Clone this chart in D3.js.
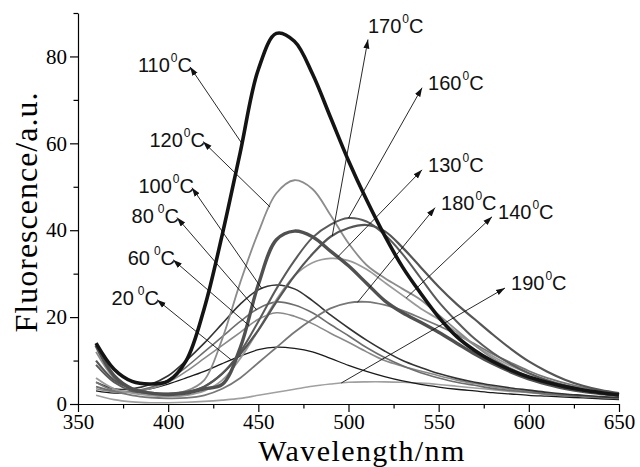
<!DOCTYPE html>
<html>
<head>
<meta charset="utf-8">
<script src="https://cdnjs.cloudflare.com/ajax/libs/d3/7.8.5/d3.min.js"></script>
<style>
  body { margin: 0; background: #fff; }
  svg { display: block; }
  .axis path, .axis line { stroke: #000; stroke-width: 1.2; }
  .title { font-family: "Liberation Serif", "Times New Roman", serif; fill: #000; }
  .temp { font-family: "Liberation Sans", Arial, sans-serif; font-size: 20px; fill: #111; }
</style>
</head>
<body>
<div class="chart"></div>
<script>

// wavelength grid (nm)
var wavelengths = [360, 370, 380, 390, 400, 410, 420, 430, 440, 450,
                   460, 470, 480, 490, 500, 510, 520, 530, 540, 550,
                   560, 570, 580, 590, 600, 610, 620, 630, 640, 650];

var temperatures = ["20", "60", "80", "100", "110", "120", "130", "140", "160", "170", "180", "190"];

// fluorescence, one list per temperature
var s20  = [3, 2.5, 2.8, 3.5, 4.6, 6, 7.5, 9.3, 11, 12.5, 13.1, 12.8, 12, 10.5, 8.9, 7.5, 6.3, 5.3, 4.5, 3.9, 3.4, 3, 2.6, 2.3, 2, 1.8, 1.6, 1.4, 1.2, 1];
var s60  = [3.5, 2.8, 2.8, 3.5, 5, 7.5, 10.5, 13.5, 16.5, 19.5, 21, 20.2, 18.5, 16.3, 14.2, 12, 10, 8.7, 7.6, 6.5, 5.5, 4.7, 4, 3.4, 2.9, 2.5, 2.1, 1.8, 1.6, 1.4];
var s80  = [4, 3, 3, 3.8, 5.5, 8.5, 12, 15.5, 19, 22, 23.5, 22.8, 21, 18.3, 15.7, 13, 10.7, 8.8, 7.2, 6, 5, 4.3, 3.6, 3.1, 2.7, 2.3, 2, 1.7, 1.5, 1.3];
var s100 = [5, 3.5, 3.5, 4.5, 6.5, 10, 14, 18.5, 23, 26.3, 27.4, 26.5, 23.8, 20.5, 17.5, 14.7, 12.2, 10, 8.4, 7, 5.9, 5, 4.3, 3.7, 3.2, 2.7, 2.3, 2, 1.7, 1.5];
var s110 = [14, 8, 5.2, 4.6, 5.3, 10, 22, 39, 58, 77, 85.3, 83.5, 76, 66, 56, 47, 38.8, 31.5, 25.5, 20, 15.5, 12.3, 9.8, 7.8, 6.2, 5, 4, 3.2, 2.6, 2.1];
var s120 = [12, 6, 3.5, 2.5, 2.3, 3, 5.5, 15, 28, 39.5, 48.5, 51.5, 49.5, 43.5, 37, 32, 29, 26.5, 24, 20.5, 17, 13.5, 10.5, 8.2, 6.3, 5, 3.9, 3, 2.4, 1.9];
var s130 = [13.5, 6.5, 3.5, 2.5, 2.2, 2.5, 3.5, 4.5, 13, 27.5, 37.8, 39.8, 38.5, 35.2, 31.8, 27.8, 23.8, 21, 18.8, 16.5, 14, 11.5, 9.3, 7.4, 5.8, 4.6, 3.6, 2.9, 2.4, 2];
var s140 = [6, 3.5, 2.5, 2, 1.7, 2, 3, 5.5, 10.5, 17, 24, 29.5, 32.5, 33.5, 33, 31, 28, 25, 22, 19.5, 16.5, 13.5, 11, 8.8, 7, 5.5, 4.3, 3.4, 2.7, 2.2];
var s160 = [9, 5, 3, 2.5, 2.4, 2.8, 4, 7, 12, 19, 26.5, 33, 38.3, 41.3, 42.8, 42, 39, 34.5, 29, 23.5, 19, 15, 11.8, 9.2, 7.1, 5.5, 4.3, 3.4, 2.8, 2.3];
var s170 = [10, 5.5, 3.5, 2.6, 2.3, 2.6, 4, 7, 11.5, 17, 23.5, 29.5, 34.5, 38.5, 40.5, 41.2, 39.8, 36, 31.5, 27, 23, 19.5, 16, 12.7, 9.8, 7.5, 5.6, 4.2, 3.2, 2.5];
var s180 = [5, 3, 2, 1.5, 1.3, 1.4, 2, 3.5, 6, 9.5, 13, 16.5, 19.5, 22, 23.3, 23.5, 22.8, 21.5, 19.8, 18, 16, 13.8, 11.5, 9.5, 7.6, 6, 4.8, 3.8, 3, 2.4];
var s190 = [2, 1, 0.5, 0.3, 0.3, 0.4, 0.6, 0.9, 1.3, 2, 2.7, 3.4, 4.1, 4.6, 5, 5.1, 5.1, 5, 4.8, 4.5, 4.1, 3.7, 3.3, 2.9, 2.6, 2.2, 1.9, 1.6, 1.3, 1.1];

var xMajor = [350, 400, 450, 500, 550, 600, 650];
var xMinor = [375, 425, 475, 525, 575, 625];
var yMajor = [0, 20, 40, 60, 80];
var yMinor = [10, 30, 50, 70, 90];

var series = {
  "20": s20, "60": s60, "80": s80, "100": s100, "110": s110, "120": s120,
  "130": s130, "140": s140, "160": s160, "170": s170, "180": s180, "190": s190
};

// line look per curve
var looks = {
  "20":  {color: "#1a1a1a", width: 1.3},
  "60":  {color: "#8a8a8a", width: 1.6},
  "80":  {color: "#6e6e6e", width: 1.6},
  "100": {color: "#333333", width: 1.6},
  "110": {color: "#141414", width: 3.6},
  "120": {color: "#8c8c8c", width: 1.8},
  "130": {color: "#505050", width: 3.4},
  "140": {color: "#9a9a9a", width: 1.8},
  "160": {color: "#5a5a5a", width: 2},
  "170": {color: "#555555", width: 2.2},
  "180": {color: "#777777", width: 1.8},
  "190": {color: "#a0a0a0", width: 1.6}
};

// callouts: arrow head (data units), tail wavelength on the curve, label side
var callouts = {
  "110": {hw: 412.1, hv: 77.6, tail: 441,   side: "left"},
  "120": {hw: 419.3, hv: 60.4, tail: 456.5, side: "left"},
  "100": {hw: 413.2, hv: 49.8, tail: 452,   side: "left"},
  "80":  {hw: 404.9, hv: 42.9, tail: 449,   side: "left"},
  "60":  {hw: 402.7, hv: 33.2, tail: 445,   side: "left"},
  "20":  {hw: 393.8, hv: 24.0, tail: 435,   side: "left"},
  "170": {hw: 510.8, hv: 83.9, tail: 491,   side: "top"},
  "160": {hw: 540.8, hv: 72.8, tail: 500,   side: "right"},
  "130": {hw: 540.8, hv: 53.9, tail: 494,   side: "right"},
  "180": {hw: 548.0, hv: 45.2, tail: 505,   side: "right"},
  "140": {hw: 579.6, hv: 43.1, tail: 532,   side: "right"},
  "190": {hw: 586.8, hv: 26.7, tail: 496,   side: "right"}
};

var margin = {top: 13, right: 21, bottom: 63, left: 78};
var width = 640 - margin.left - margin.right,
    height = 467 - margin.top - margin.bottom;

var svg = d3.select(".chart")
  .append("svg")
    .attr("width", 640)
    .attr("height", 467)
  .append("g")
    .attr("transform", "translate(" + margin.left + "," + margin.top + ")");

var x = d3.scaleLinear().domain([350, 650]).range([0, width]);
var y = d3.scaleLinear().domain([0, 90]).range([height, 0]);

function valueAt(vals, w) {
  var i = d3.bisectLeft(wavelengths, w);
  if (i <= 0) return vals[0];
  if (i >= wavelengths.length) return vals[vals.length - 1];
  var t = (w - wavelengths[i - 1]) / (wavelengths[i] - wavelengths[i - 1]);
  return vals[i - 1] + t * (vals[i] - vals[i - 1]);
}

// AXES //

var serif = "'Liberation Serif', 'Times New Roman', Times, serif";

var xAxis = svg.append("g")
  .attr("class", "axis")
  .attr("transform", "translate(0," + height + ")")
  .call(d3.axisBottom(x).tickValues(xMajor).tickSize(8).tickSizeOuter(0).tickPadding(2));

svg.append("g")
  .attr("class", "axis")
  .attr("transform", "translate(0," + height + ")")
  .call(d3.axisBottom(x).tickValues(xMinor).tickSize(4.5).tickFormat(""))
  .select(".domain").remove();

var yAxis = svg.append("g")
  .attr("class", "axis")
  .call(d3.axisLeft(y).tickValues(yMajor).tickSize(8).tickSizeOuter(0).tickPadding(3));

svg.append("g")
  .attr("class", "axis")
  .call(d3.axisLeft(y).tickValues(yMinor).tickSize(4.5).tickFormat(""))
  .select(".domain").remove();

[xAxis, yAxis].forEach(function(a) {
  a.attr("font-family", serif).attr("font-size", 21);
  a.selectAll("text")
    .style("font-family", serif)
    .style("font-size", "21px")
    .style("fill", "#000");
});

svg.append("text")
  .attr("class", "title")
  .attr("text-anchor", "middle")
  .attr("transform", "translate(" + (37 - margin.left) + "," + (212 - margin.top) + ") rotate(-90)")
  .style("font-size", "32px")
  .style("letter-spacing", "1px")
  .text("Fluorescence/a.u.");

svg.append("text")
  .attr("class", "title")
  .attr("text-anchor", "middle")
  .attr("x", 362 - margin.left)
  .attr("y", 460.5 - margin.top)
  .style("font-size", "30px")
  .style("letter-spacing", "1.4px")
  .text("Wavelength/nm");

// CURVES //

var line = d3.line()
  .x(function(d, i) { return x(wavelengths[i]); })
  .y(function(d) { return y(d); })
  .curve(d3.curveCatmullRom.alpha(0.5));

var drawOrder = ["190", "20", "60", "80", "100", "180", "140", "120", "160", "170", "130", "110"];

svg.selectAll(".spectrum")
  .data(drawOrder)
  .enter().append("path")
    .attr("class", "spectrum")
    .attr("d", function(t) { return line(series[t]); })
    .style("fill", "none")
    .style("stroke", function(t) { return looks[t].color; })
    .style("stroke-width", function(t) { return looks[t].width; })
    .style("stroke-linejoin", "round");

// ARROWS + LABELS //

svg.append("defs").append("marker")
  .attr("id", "head")
  .attr("viewBox", "0 -4 9 8")
  .attr("refX", 9)
  .attr("refY", 0)
  .attr("markerUnits", "userSpaceOnUse")
  .attr("markerWidth", 9)
  .attr("markerHeight", 8)
  .attr("orient", "auto")
  .append("path")
    .attr("d", "M0,-3L9,0L0,3Z")
    .style("fill", "#111");

temperatures.forEach(function(t) {
  var c = callouts[t];
  var hx = x(c.hw), hy = y(c.hv);
  svg.append("line")
    .attr("x1", x(c.tail))
    .attr("y1", y(valueAt(series[t], c.tail)))
    .attr("x2", hx)
    .attr("y2", hy)
    .style("stroke", "#111")
    .style("stroke-width", 0.9)
    .attr("marker-end", "url(#head)");

  var label = svg.append("text").attr("class", "temp");
  if (c.side === "left") {
    label.attr("text-anchor", "end").attr("x", hx + 2).attr("y", hy + 5);
  } else if (c.side === "top") {
    label.attr("text-anchor", "start").attr("x", hx).attr("y", hy - 7);
  } else {
    label.attr("text-anchor", "start").attr("x", hx + 6).attr("y", hy + 2);
  }
  label.append("tspan").text(t);
  label.append("tspan")
    .attr("dx", t.length === 2 ? 4 : 1)
    .attr("dy", -10)
    .style("font-size", "12px")
    .text("0");
  label.append("tspan")
    .attr("dy", 10)
    .text("C");
});

</script>
</body>
</html>
